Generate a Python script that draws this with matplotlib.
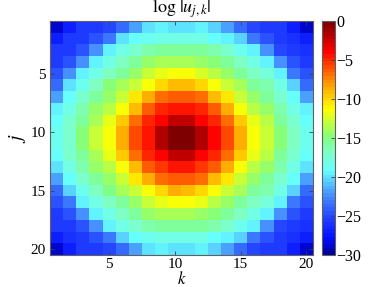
import numpy as np
import matplotlib
matplotlib.use("Agg")
import matplotlib.pyplot as plt
from matplotlib.colors import LinearSegmentedColormap

plt.rcParams['font.family'] = ['Liberation Serif', 'DejaVu Serif']
plt.rcParams['mathtext.fontset'] = 'stix'

j_ticks = [5, 10, 15, 20]
k_ticks = [5, 10, 15, 20]
cbar_ticks = [0, -5, -10, -15, -20, -25, -30]

# log|u_{j,k}|, rows j = 1..20, columns k = 1..20
log_u = np.array([
    [-29, -27, -25.5, -25.5, -25, -23.5, -22, -20, -19.5, -20, -20, -19.5, -20.3, -22, -23.5, -25, -25.5, -25.5, -27, -29],
    [-27, -25.5, -25.5, -24.5, -23, -20, -19, -18.5, -18, -18, -18, -18, -18.8, -19.5, -20.5, -23, -24.5, -25.5, -26, -27],
    [-25.5, -25.5, -24.5, -22.5, -19.5, -18, -17, -16, -15.5, -15.5, -15.5, -15.5, -16, -17.3, -18.3, -19.5, -22.5, -25, -25.5, -26],
    [-25.5, -24.5, -22.5, -19.5, -18, -16.5, -15.5, -14.5, -14, -14, -14, -14.2, -14.8, -15.8, -16.8, -18, -19.5, -22.5, -24.5, -25.5],
    [-24.5, -22.5, -19.5, -18, -16.5, -15.5, -14.5, -13, -12, -11.5, -11.5, -12.2, -13.3, -14.3, -15.5, -16.5, -17.8, -19.3, -23, -24.5],
    [-23.5, -20, -18.5, -16.5, -15, -14, -13, -11.5, -10, -9, -9, -10, -11.5, -13, -14, -15.5, -16.3, -18, -20.3, -23.5],
    [-22, -19, -17, -15.5, -14.5, -13, -10.5, -8.5, -7, -6.3, -6.3, -7, -9, -10.5, -13, -14.3, -15.5, -17.3, -19, -22],
    [-19.5, -18, -16, -14.5, -13.5, -11.5, -9, -6.3, -4.8, -4.3, -4.3, -5, -6.3, -8.5, -11.5, -13.3, -14.5, -16, -18, -19.5],
    [-19, -17, -15.5, -14, -12, -9.8, -7, -5, -4, -2.3, -2.2, -3.8, -5, -7, -9.8, -11.8, -13.5, -15.5, -17, -18.8],
    [-18.5, -17, -15, -13, -11.5, -8.5, -6, -4.3, -1.8, -0.2, -0.2, -1.8, -4, -6, -8.5, -11.5, -13, -14.8, -16.8, -18.5],
    [-18.5, -17, -15, -13, -11.5, -8.5, -6, -4.3, -1.8, -0.2, -0.2, -1.8, -4, -6, -8.5, -11.5, -13, -14.8, -16.8, -18.5],
    [-19, -17.3, -15.5, -14, -12, -9.8, -7, -5, -4, -2.3, -2.2, -3.8, -5, -7, -9.8, -12, -13.5, -15.5, -17, -18.8],
    [-19.7, -18, -16, -14.5, -13.5, -11.5, -9, -6.3, -5.3, -4.3, -4.3, -5.3, -6.3, -8.5, -11.5, -13.3, -14.5, -16, -18, -19.7],
    [-22, -19, -17, -15.5, -14.5, -13, -10.5, -8.5, -7, -6.3, -6.3, -7, -9, -10.5, -13, -14.3, -15.5, -17.3, -19, -22],
    [-23.5, -20.3, -18.3, -16.5, -15.3, -14, -13, -11.5, -10, -8.8, -9, -10, -11.5, -13, -14, -15.5, -16.3, -18, -20.3, -23.5],
    [-24.5, -23, -19.5, -18, -16.5, -15.5, -14.5, -13, -11.8, -11.5, -11.5, -12, -13.3, -14.3, -15.5, -16.5, -17.8, -19.3, -23, -24.5],
    [-25.5, -24.5, -22.5, -19.5, -18, -16.5, -15.5, -14.5, -14, -14, -14, -14.2, -14.8, -15.8, -16.8, -18, -19.5, -22.5, -24.5, -25.5],
    [-25.5, -25.5, -24.5, -22.5, -19.5, -18, -17, -16, -15.5, -15.5, -15.5, -15.5, -16, -17.3, -18.3, -19.5, -22.5, -25, -25.5, -26],
    [-27, -26, -25.5, -24.5, -23, -20.3, -19, -18.5, -18, -18, -18, -18, -18.8, -19.5, -20.5, -23, -24.5, -25.5, -26, -27],
    [-29, -27, -25.5, -25.5, -25, -23.5, -22, -20, -19.5, -20, -20, -19.5, -20.3, -22, -23.5, -25, -25.5, -25.5, -27, -29],
])

# jet-like colour scale, as it appears (slightly lighter in the blues) in the reference
cmap = LinearSegmentedColormap.from_list('jet_ref', [
    (0.00, (0.00, 0.00, 0.60)),
    (0.06, (0.00, 0.05, 1.00)),
    (0.14, (0.12, 0.22, 1.00)),
    (0.25, (0.27, 0.55, 1.00)),
    (0.36, (0.40, 1.00, 1.00)),
    (0.44, (0.50, 1.00, 0.78)),
    (0.50, (0.50, 1.00, 0.50)),
    (0.625, (1.00, 1.00, 0.00)),
    (0.75, (1.00, 0.55, 0.00)),
    (0.875, (1.00, 0.00, 0.00)),
    (1.00, (0.50, 0.00, 0.00)),
], N=64)

W, H = 382, 287
fig = plt.figure(figsize=(W / 100, H / 100), dpi=100)
ax = fig.add_axes([50 / W, 1 - 255 / H, 263 / W, 234 / H])
n = log_u.shape[0]
im = ax.imshow(log_u, cmap=cmap, vmin=-30, vmax=0, aspect='auto',
               interpolation='nearest',
               extent=(0.5, n + 0.5, n + 0.5, 0.5))
ax.set_xticks(k_ticks)
ax.set_yticks(j_ticks)
ax.tick_params(direction='in', length=3, width=0.6, top=True, right=True,
               labelsize=11, colors='#404040', labelcolor='black', pad=3)
ax.tick_params(axis='x', pad=2)
for s in ax.spines.values():
    s.set_color('#606060')
    s.set_linewidth(0.8)
ax.set_xlabel('$k$', fontsize=12, labelpad=0)
ax.set_ylabel('$j$', fontsize=14, labelpad=2)
ax.set_title(r'$\log\,|u_{j,k}|$', fontsize=13, pad=6)

cax = fig.add_axes([322 / W, 1 - 255 / H, 13 / W, 234 / H])
cb = fig.colorbar(im, cax=cax, ticks=cbar_ticks)
cb.outline.set_edgecolor('#606060')
cb.outline.set_linewidth(0.8)
cax.tick_params(direction='in', length=3, width=0.6, labelsize=11.5,
                colors='#404040', labelcolor='black', pad=1)

fig.savefig('out.png', dpi=100)
